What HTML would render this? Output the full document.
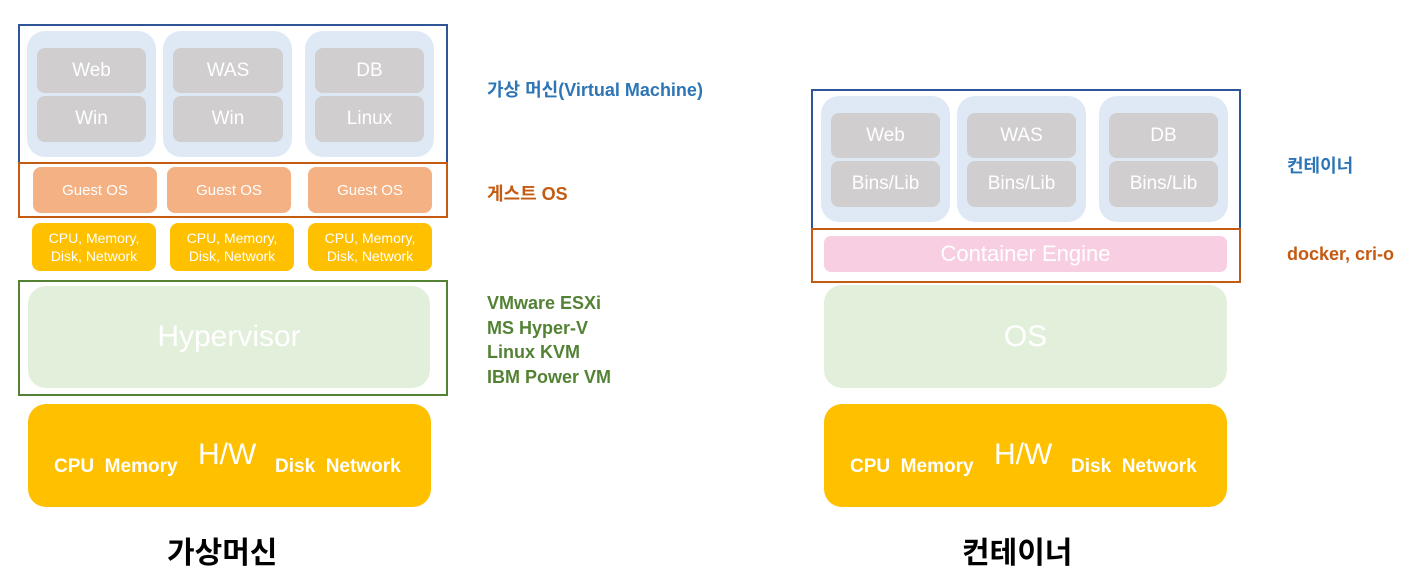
<!DOCTYPE html>
<html><head><meta charset="utf-8"><style>
body{margin:0;width:1413px;height:575px;background:#fff;position:relative;overflow:hidden;font-family:"Liberation Sans","Noto Sans CJK KR",sans-serif}
div{position:absolute;box-sizing:border-box}
.c{display:flex;align-items:center;justify-content:center;text-align:center}
.frame{border:2px solid}
.pan{background:#dee9f5;border-radius:18px}
.gr{background:#d0cece;border-radius:8px;color:#fff;font-size:19px}
.go{background:#f4b183;border-radius:8px;color:#fff;font-size:15px}
.ye{background:#ffc000;border-radius:8px;color:#fff;font-size:14px;line-height:18px}
.lg{background:#e2efda;border-radius:18px;color:#fff;font-size:30px}
.hw{background:#ffc000;border-radius:18px;color:#fff}
.hw b{font-size:19px;position:absolute;top:52px}
.hw span{font-size:30px;position:absolute;top:34px}
.lbl{font-weight:bold;font-size:18px;white-space:nowrap}
</style></head><body>
<!-- Left -->
<div class="frame" style="left:18px;top:24px;width:430px;height:140px;border-color:#2f5597"></div>
<div class="pan" style="left:27px;top:31px;width:129px;height:126px"></div>
<div class="pan" style="left:163px;top:31px;width:129px;height:126px"></div>
<div class="pan" style="left:305px;top:31px;width:129px;height:126px"></div>
<div class="gr c" style="left:37px;top:48px;width:109px;height:45px">Web</div>
<div class="gr c" style="left:37px;top:96px;width:109px;height:46px">Win</div>
<div class="gr c" style="left:173px;top:48px;width:110px;height:45px">WAS</div>
<div class="gr c" style="left:173px;top:96px;width:110px;height:46px">Win</div>
<div class="gr c" style="left:315px;top:48px;width:109px;height:45px">DB</div>
<div class="gr c" style="left:315px;top:96px;width:109px;height:46px">Linux</div>
<div class="frame" style="left:18px;top:162px;width:430px;height:56px;border-color:#c55a11"></div>
<div class="go c" style="left:33px;top:167px;width:124px;height:46px">Guest OS</div>
<div class="go c" style="left:167px;top:167px;width:124px;height:46px">Guest OS</div>
<div class="go c" style="left:308px;top:167px;width:124px;height:46px">Guest OS</div>
<div class="ye c" style="left:32px;top:223px;width:124px;height:48px">CPU, Memory,<br>Disk, Network</div>
<div class="ye c" style="left:170px;top:223px;width:124px;height:48px">CPU, Memory,<br>Disk, Network</div>
<div class="ye c" style="left:308px;top:223px;width:124px;height:48px">CPU, Memory,<br>Disk, Network</div>
<div class="frame" style="left:18px;top:280px;width:430px;height:116px;border-color:#548235"></div>
<div class="lg c" style="left:28px;top:286px;width:402px;height:102px">Hypervisor</div>
<div class="hw" style="left:28px;top:404px;width:403px;height:103px">
<b style="left:26px">CPU&nbsp; Memory</b><span style="left:170px">H/W</span><b style="left:247px">Disk&nbsp; Network</b></div>
<div style="left:167px;top:528px;font-size:30px;font-weight:bold;color:#000">가상머신</div>
<div class="lbl" style="left:487px;top:76px;color:#2e75b6">가상 머신(Virtual Machine)</div>
<div class="lbl" style="left:487px;top:180px;color:#c55a11">게스트 OS</div>
<div class="lbl" style="left:487px;top:291px;color:#548235;line-height:24.5px">VMware ESXi<br>MS Hyper-V<br>Linux KVM<br>IBM Power VM</div>
<!-- Right -->
<div class="frame" style="left:811px;top:89px;width:430px;height:141px;border-color:#2f5597"></div>
<div class="pan" style="left:821px;top:96px;width:129px;height:126px"></div>
<div class="pan" style="left:957px;top:96px;width:129px;height:126px"></div>
<div class="pan" style="left:1099px;top:96px;width:129px;height:126px"></div>
<div class="gr c" style="left:831px;top:113px;width:109px;height:45px">Web</div>
<div class="gr c" style="left:831px;top:161px;width:109px;height:46px">Bins/Lib</div>
<div class="gr c" style="left:967px;top:113px;width:109px;height:45px">WAS</div>
<div class="gr c" style="left:967px;top:161px;width:109px;height:46px">Bins/Lib</div>
<div class="gr c" style="left:1109px;top:113px;width:109px;height:45px">DB</div>
<div class="gr c" style="left:1109px;top:161px;width:109px;height:46px">Bins/Lib</div>
<div class="frame" style="left:811px;top:228px;width:430px;height:55px;border-color:#c55a11"></div>
<div class="c" style="left:824px;top:236px;width:403px;height:36px;background:#f8cfe2;border-radius:7px;color:#fff;font-size:22px">Container Engine</div>
<div class="lg c" style="left:824px;top:285px;width:403px;height:103px">OS</div>
<div class="hw" style="left:824px;top:404px;width:403px;height:103px">
<b style="left:26px">CPU&nbsp; Memory</b><span style="left:170px">H/W</span><b style="left:247px">Disk&nbsp; Network</b></div>
<div style="left:962px;top:528px;font-size:30px;font-weight:bold;color:#000">컨테이너</div>
<div class="lbl" style="left:1287px;top:152px;color:#2e75b6">컨테이너</div>
<div class="lbl" style="left:1287px;top:244px;color:#c55a11">docker, cri-o</div>
</body></html>
